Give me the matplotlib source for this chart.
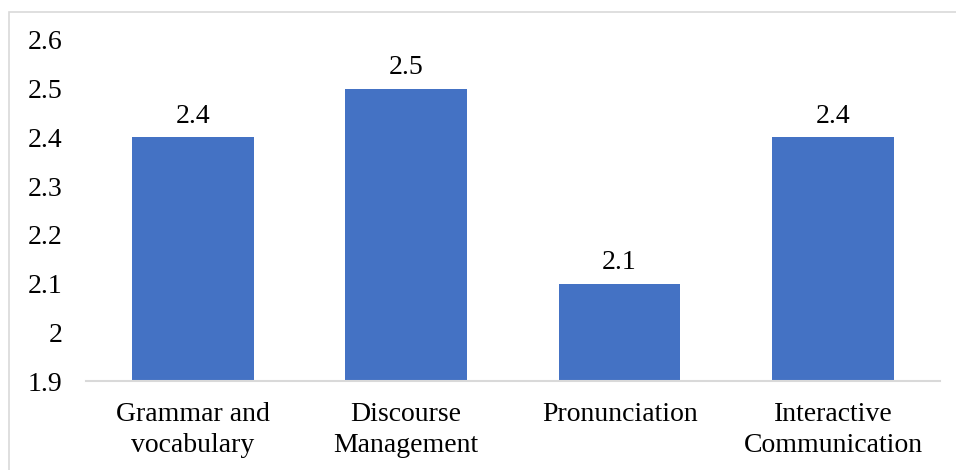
import matplotlib.pyplot as plt
from matplotlib.patches import Rectangle

categories = ["Grammar and\nvocabulary", "Discourse\nManagement", "Pronunciation", "Interactive\nCommunication"]
scores = [2.4, 2.5, 2.1, 2.4]
y_ticks = [1.9, 2.0, 2.1, 2.2, 2.3, 2.4, 2.5, 2.6]
y_tick_labels = ["1.9", "2", "2.1", "2.2", "2.3", "2.4", "2.5", "2.6"]

plt.rcParams['font.family'] = ['Liberation Serif', 'DejaVu Serif']
FS = 20

fig = plt.figure(figsize=(9.56, 4.7), dpi=100)
ax = fig.add_axes([0.090, 0.189, 0.893, 0.726])

x = range(len(categories))
ax.bar(x, scores, width=0.57, color="#4472C4")

for xi, v in zip(x, scores):
    ax.text(xi, v + 0.017, f"{v:g}", ha="center", va="bottom", fontsize=FS)

ax.set_ylim(1.9, 2.6)
ax.set_xlim(-0.5, len(categories) - 0.5)
ax.set_yticks(y_ticks)
ax.set_yticklabels(y_tick_labels, fontsize=FS)
ax.set_xticks(list(x))
ax.set_xticklabels(categories, fontsize=FS, linespacing=1.3)
ax.tick_params(axis="both", length=0)
ax.tick_params(axis="y", pad=17)
ax.tick_params(axis="x", pad=15)

for s in ["top", "right", "left"]:
    ax.spines[s].set_visible(False)
ax.spines["bottom"].set_color("#D9D9D9")
ax.spines["bottom"].set_linewidth(1.5)

# outer chart frame
fig.patches.append(Rectangle((9 / 956, -0.1), 1.2, 1 - 12 / 470 + 0.1,
                             transform=fig.transFigure, fill=False,
                             edgecolor="#D9D9D9", linewidth=1.2))

fig.savefig("out.png", dpi=100)
